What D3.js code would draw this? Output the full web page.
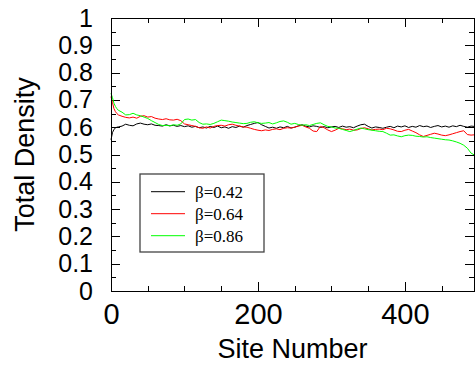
<!DOCTYPE html>
<head>
    <meta charset="utf-8">
    <style>
        body{ margin:0; background:#fff; }
        svg{ display:block; }
        .axis text{ font-family:'Liberation Sans', Arial, sans-serif; fill:#000; }
        .axis .domain{ display:none; }
        .axis line{ stroke:#000; shape-rendering:crispEdges; }
        .title{ font-family:'Liberation Sans', Arial, sans-serif; fill:#000; }
        .line{ fill:none; stroke-width:1px; }
        .legend text{ font-family:'Liberation Serif', 'Times New Roman', serif; font-size:17px; fill:#000; }
    </style>
</head>
<body>
    <div id="chart"></div>
    <script src="https://d3js.org/d3.v7.min.js"></script>
    <script>
        // site positions along the lattice
        var sites = [0,2,4,6,8,10,15,20,25,30,
            35,40,45,50,55,60,65,70,75,80,
            85,90,95,100,105,110,115,120,125,130,
            135,140,145,150,155,160,165,170,175,180,
            185,190,195,200,205,210,215,220,225,230,
            235,240,245,250,255,260,265,270,275,280,
            285,290,295,300,305,310,315,320,325,330,
            335,340,345,350,355,360,365,370,375,380,
            385,390,395,400,405,410,415,420,425,430,
            435,440,445,450,455,460,465,470,475,480,
            485,490,494];

        var beta42 = [0.554,0.580,0.592,0.597,0.600,0.601,0.604,0.611,0.607,0.605,
            0.612,0.615,0.611,0.609,0.612,0.607,0.606,0.604,0.609,0.605,
            0.607,0.603,0.606,0.602,0.605,0.600,0.603,0.598,0.601,0.597,
            0.603,0.599,0.604,0.598,0.601,0.596,0.602,0.599,0.604,0.600,
            0.606,0.610,0.614,0.617,0.609,0.603,0.597,0.600,0.596,0.601,
            0.598,0.603,0.597,0.600,0.605,0.609,0.604,0.601,0.605,0.603,
            0.599,0.602,0.598,0.601,0.603,0.599,0.604,0.600,0.602,0.598,
            0.604,0.609,0.611,0.603,0.597,0.601,0.599,0.596,0.600,0.603,
            0.598,0.604,0.601,0.605,0.599,0.603,0.600,0.606,0.602,0.604,
            0.599,0.603,0.606,0.601,0.604,0.600,0.605,0.602,0.607,0.603,
            0.600,0.604,0.603];

        var beta64 = [0.712,0.690,0.668,0.657,0.650,0.645,0.640,0.636,0.634,0.637,
            0.633,0.640,0.642,0.637,0.639,0.633,0.630,0.628,0.631,0.627,
            0.626,0.629,0.624,0.612,0.609,0.606,0.603,0.598,0.596,0.601,
            0.597,0.603,0.606,0.607,0.604,0.609,0.611,0.607,0.604,0.601,
            0.600,0.596,0.592,0.589,0.587,0.590,0.588,0.592,0.594,0.591,
            0.596,0.598,0.597,0.600,0.604,0.607,0.601,0.596,0.586,0.584,
            0.603,0.598,0.590,0.584,0.589,0.596,0.594,0.591,0.593,0.589,
            0.590,0.595,0.598,0.594,0.590,0.592,0.593,0.591,0.596,0.594,
            0.590,0.585,0.584,0.589,0.592,0.586,0.580,0.572,0.566,0.570,
            0.574,0.578,0.575,0.571,0.569,0.572,0.576,0.580,0.584,0.587,
            0.573,0.571,0.572];

        var beta86 = [0.724,0.708,0.688,0.676,0.668,0.662,0.655,0.645,0.646,0.651,
            0.645,0.642,0.637,0.632,0.624,0.617,0.610,0.606,0.607,0.605,
            0.609,0.607,0.612,0.628,0.630,0.626,0.628,0.617,0.611,0.612,
            0.610,0.614,0.620,0.626,0.624,0.622,0.619,0.617,0.615,0.613,
            0.614,0.618,0.620,0.616,0.614,0.615,0.617,0.612,0.616,0.621,
            0.623,0.618,0.611,0.614,0.610,0.607,0.609,0.606,0.610,0.614,
            0.616,0.609,0.603,0.601,0.597,0.596,0.592,0.588,0.584,0.588,
            0.593,0.597,0.594,0.591,0.589,0.587,0.585,0.584,0.578,0.571,
            0.572,0.568,0.565,0.569,0.571,0.570,0.567,0.566,0.564,0.565,
            0.562,0.560,0.558,0.556,0.554,0.553,0.550,0.546,0.541,0.534,
            0.523,0.505,0.499];

        var seriesNames = ["\u03b2=0.42", "\u03b2=0.64", "\u03b2=0.86"];
        var seriesColors = ["#000000", "#ff0000", "#00ff00"];

        var xTicks = [0, 200, 400];
        var xMinor = [50, 100, 150, 250, 300, 350, 450];
        var yTicks = [0, 0.1, 0.2, 0.3, 0.4, 0.5, 0.6, 0.7, 0.8, 0.9, 1];
        var yMinor = [0.05, 0.15, 0.25, 0.35, 0.45, 0.55, 0.65, 0.75, 0.85, 0.95];

        var margin = {top: 18, right: 1, bottom: 80, left: 111},
            width = 475 - margin.left - margin.right,
            height = 371 - margin.top - margin.bottom;

        var svg = d3.select("#chart").append("svg")
                .attr("width", 475)
                .attr("height", 371);

        var g = svg.append("g")
            .attr("transform", "translate(" + margin.left + "," + margin.top + ")");

        var x = d3.scaleLinear().domain([0, 494]).range([0, width]);
        var y = d3.scaleLinear().domain([0, 1]).range([height, 0]);

        var fmt = d3.format("~g");

        // major ticks with labels (pointing inward)
        g.append("g").attr("class", "axis")
            .call(d3.axisLeft(y).tickValues(yTicks).tickSize(-9).tickPadding(18).tickFormat(fmt))
            .selectAll("text").style("font-size", "25px");
        g.append("g").attr("class", "axis")
            .call(d3.axisLeft(y).tickValues(yMinor).tickSize(-5).tickFormat(""));
        g.append("g").attr("class", "axis")
            .attr("transform", "translate(" + width + ",0)")
            .call(d3.axisRight(y).tickValues(yTicks).tickSize(-9).tickFormat(""));
        g.append("g").attr("class", "axis")
            .attr("transform", "translate(" + width + ",0)")
            .call(d3.axisRight(y).tickValues(yMinor).tickSize(-5).tickFormat(""));

        g.append("g").attr("class", "axis")
            .attr("transform", "translate(0," + height + ")")
            .call(d3.axisBottom(x).tickValues(xTicks).tickSize(-9).tickPadding(12).tickFormat(fmt))
            .selectAll("text").style("font-size", "29px");
        g.append("g").attr("class", "axis")
            .attr("transform", "translate(0," + height + ")")
            .call(d3.axisBottom(x).tickValues(xMinor).tickSize(-5).tickFormat(""));
        g.append("g").attr("class", "axis")
            .call(d3.axisTop(x).tickValues(xTicks).tickSize(-9).tickFormat(""));
        g.append("g").attr("class", "axis")
            .call(d3.axisTop(x).tickValues(xMinor).tickSize(-5).tickFormat(""));

        var line = d3.line()
            .x(function(d) { return x(d.site); })
            .y(function(d) { return y(d.value); });

        [beta42, beta64, beta86].forEach(function(vals, i) {
            var pts = sites.map(function(s, j) { return {site: s, value: vals[j]}; });
            g.append("path")
                .datum(pts)
                .attr("class", "line")
                .attr("stroke", seriesColors[i])
                .attr("d", line);
        });

        // frame
        g.append("rect")
            .attr("x", 0).attr("y", 0)
            .attr("width", width).attr("height", height)
            .attr("fill", "none")
            .attr("stroke", "#000")
            .attr("shape-rendering", "crispEdges");

        // legend
        var legend = g.append("g").attr("class", "legend")
            .attr("transform", "translate(29,156)");
        legend.append("rect")
            .attr("x", 0).attr("y", 0)
            .attr("width", 124).attr("height", 78)
            .attr("fill", "#fff")
            .attr("stroke", "#444")
            .attr("stroke-width", 1.3);
        seriesNames.forEach(function(name, i) {
            var ly = 17.7 + i * 22;
            legend.append("line")
                .attr("x1", 11).attr("x2", 45)
                .attr("y1", ly).attr("y2", ly)
                .attr("stroke", seriesColors[i])
                .attr("stroke-width", 1);
            legend.append("text")
                .attr("x", 55).attr("y", ly + 6.5)
                .text(name);
        });

        // axis titles
        svg.append("text").attr("class", "title")
            .attr("x", margin.left + width / 2)
            .attr("y", 358)
            .attr("text-anchor", "middle")
            .style("font-size", "27px")
            .text("Site Number");

        svg.append("text").attr("class", "title")
            .attr("transform", "translate(33.5," + (margin.top + height / 2) + ") rotate(-90)")
            .attr("text-anchor", "middle")
            .style("font-size", "27px")
            .text("Total Density");
    </script>
</body>
